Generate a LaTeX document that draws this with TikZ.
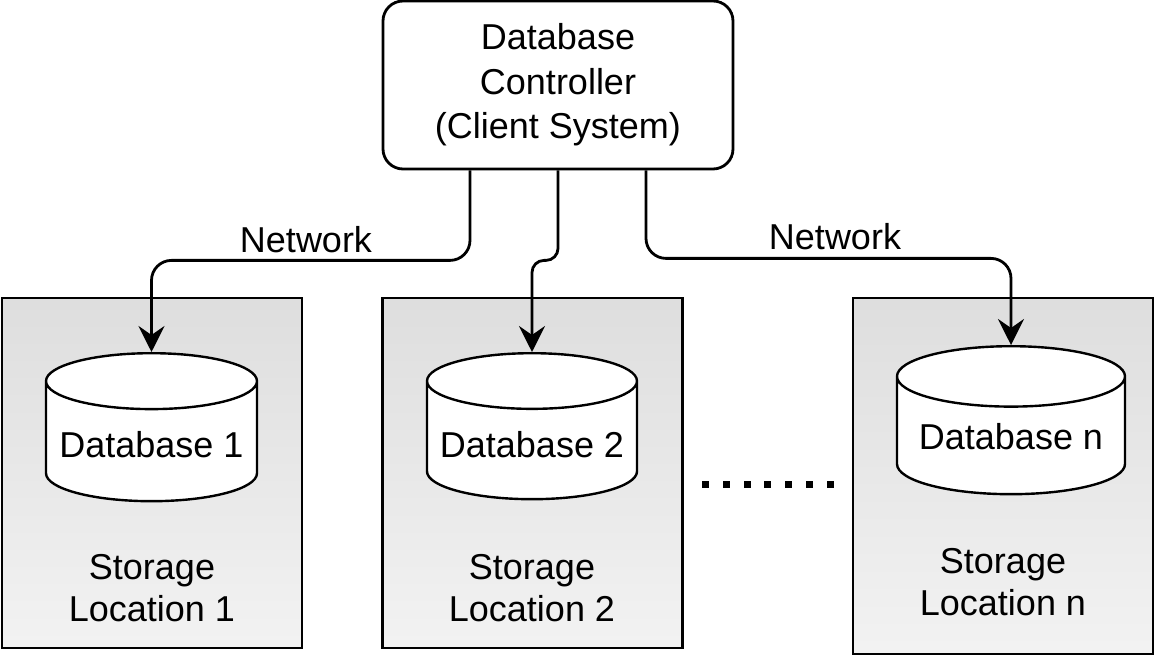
\documentclass[tikz,border=0pt]{standalone}
\usepackage{fontspec}
\setmainfont{Liberation Sans}
\usetikzlibrary{arrows.meta,positioning,shapes.geometric}

\tikzset{
  ctrlbox/.style={draw, line width=1.4pt, rounded corners=10pt, minimum width=175pt, minimum height=84pt, align=center},
  sitebox/.style={draw, line width=1.4pt, top color=black!13, bottom color=black!5, minimum width=150pt, inner sep=0pt},
  dbshape/.style={cylinder, shape border rotate=90, aspect=0.265, draw, fill=white, line width=1.2pt, inner ysep=0pt, anchor=north},
  conn/.style={line width=1.4pt, rounded corners=10pt, -{Stealth[length=13pt, width=13pt, inset=4.5pt]}},
  lbl/.style={align=center}
}

\begin{document}
\begin{tikzpicture}[x=0.5pt, y=-0.5pt, font=\fontsize{18}{21}\selectfont]
  \useasboundingbox (0,0) rectangle (1158,662);

  % Client
  \node[ctrlbox, font=\fontsize{18}{22.3}\selectfont] (ctrl) at (558,85) {Database\\Controller\\(Client System)};

  % Storage sites
  \node[sitebox, minimum height=175pt] (site1) at (152,473) {};
  \node[sitebox, minimum height=175pt] (site2) at (532.5,473) {};
  \node[sitebox, minimum height=178pt] (siten) at (1003,476) {};
  \node[lbl] (loc1) at (152,588) {Storage\\Location 1};
  \node[lbl] (loc2) at (532,588) {Storage\\Location 2};
  \node[lbl] (locn) at (1003,582) {Storage\\Location n};

  % Databases
  \node[dbshape, inner xsep=52.75pt, minimum height=74pt] (db1) at (151.5,352) {};
  \node[dbshape, inner xsep=52.5pt, minimum height=73pt] (db2) at (532,352) {};
  \node[dbshape, inner xsep=57pt, minimum height=74pt] (dbn) at (1011,345) {};
  \node (db1txt) at ([yshift=-46.5pt]db1.north) {Database 1};
  \node (db2txt) at ([yshift=-46.5pt]db2.north) {Database 2};
  \node (dbntxt) at ([yshift=-46pt]dbn.north) {Database n};

  % Network links
  \draw[conn] ([xshift=-44pt]ctrl.south) -- ++(0,90) -| (db1.north);
  \draw[conn, rounded corners=6pt] (ctrl.south) -- ++(0,90) -| (db2.north);
  \draw[conn] ([xshift=44pt]ctrl.south) -- ++(0,88) -| (dbn.north);
  \node (net1) at (306,240) {Network};
  \node (net2) at (835,237) {Network};

  % more sites
  \foreach \k in {0,...,6}
    \fill ({702+20.8*\k},481) rectangle ++(7,7);
\end{tikzpicture}
\end{document}
